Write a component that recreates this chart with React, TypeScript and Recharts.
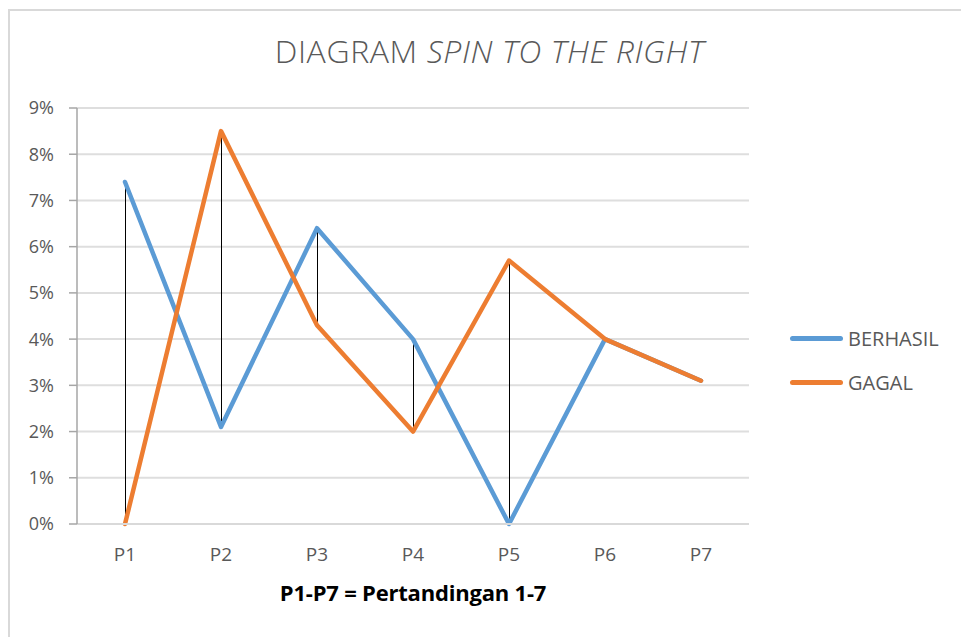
import React from 'react';
import {
    ComposedChart,
    Line,
    Bar,
    XAxis,
    YAxis,
    CartesianGrid,
    Legend,
    Label
} from 'recharts';

// Data kategori dan nilai seri (dibaca dari gambar referensi)
const CATEGORIES = ['P1', 'P2', 'P3', 'P4', 'P5', 'P6', 'P7'];
const BERHASIL = [0.074, 0.021, 0.064, 0.040, 0.0, 0.040, 0.031];
const GAGAL = [0.0, 0.085, 0.043, 0.020, 0.057, 0.040, 0.031];
const Y_TICKS = [0, 0.01, 0.02, 0.03, 0.04, 0.05, 0.06, 0.07, 0.08, 0.09];

const BLUE = '#5b9bd5';
const ORANGE = '#ed7d31';
const TEXT_GREY = '#595959';
const FONT = '"Open Sans", "DejaVu Sans", sans-serif';

// Tabel untuk Recharts + garis high-low (rentang min-max tiap kategori)
const chartData = CATEGORIES.map((name, i) => ({
    name,
    BERHASIL: BERHASIL[i],
    GAGAL: GAGAL[i],
    hl: [Math.min(BERHASIL[i], GAGAL[i]), Math.max(BERHASIL[i], GAGAL[i])]
}));

const LEGEND_ITEMS = [
    { label: 'BERHASIL', color: BLUE },
    { label: 'GAGAL', color: ORANGE }
];

const renderLegend = () => (
    <div style={{ fontFamily: FONT }}>
        {LEGEND_ITEMS.map(item => (
            <div key={item.label} style={{ display: 'flex', alignItems: 'center', height: 44 }}>
                <div style={{ width: 53, height: 5, borderRadius: 3, background: item.color, marginRight: 5 }} />
                <span style={{ fontSize: 20, color: TEXT_GREY }}>{item.label}</span>
            </div>
        ))}
    </div>
);

export default function App() {
    return (
        <div style={{ position: 'absolute', left: 0, top: 0, width: 961, height: 637, overflow: 'hidden', background: '#fff' }}>
            {/* bingkai chart */}
            <div style={{
                position: 'absolute', left: 8, top: 9, width: 1000, height: 700,
                borderLeft: '2px solid #d9d9d9', borderTop: '2px solid #d9d9d9'
            }} />

            {/* judul */}
            <div style={{
                position: 'absolute', left: 9, top: 35, width: 961, textAlign: 'center',
                fontFamily: FONT, fontSize: 32, fontWeight: 300, lineHeight: '32px', color: TEXT_GREY,
                letterSpacing: 0.6
            }}>
                DIAGRAM <i>SPIN TO THE RIGHT</i>
            </div>

            <div style={{ position: 'absolute', left: 0, top: 0 }}>
                <ComposedChart
                    width={961}
                    height={637}
                    data={chartData}
                    margin={{ top: 108, right: 212, left: 17, bottom: 53 }}
                    style={{ fontFamily: FONT }}
                >
                    <CartesianGrid vertical={false} stroke="#dedede" strokeWidth={2} />
                    <XAxis
                        dataKey="name"
                        height={60}
                        tickLine={false}
                        tickSize={0}
                        tickMargin={24}
                        axisLine={{ stroke: '#d9d9d9', strokeWidth: 2 }}
                        tick={{ fill: TEXT_GREY, fontSize: 19 }}
                    >
                        <Label
                            value="P1-P7 = Pertandingan 1-7"
                            position="bottom"
                            offset={1}
                            style={{ fontSize: 22, fontWeight: 700, fill: '#000', letterSpacing: -0.2 }}
                        />
                    </XAxis>
                    <YAxis
                        width={60}
                        domain={[0, 0.09]}
                        ticks={Y_TICKS}
                        interval={0}
                        tickSize={8}
                        tickMargin={15}
                        tickFormatter={(v: number) => `${Math.round(v * 100)}%`}
                        axisLine={{ stroke: '#a6a6a6', strokeWidth: 1.5 }}
                        tickLine={{ stroke: '#a6a6a6', strokeWidth: 1.5 }}
                        tick={{ fill: TEXT_GREY, fontSize: 18 }}
                    />
                    <Legend
                        layout="horizontal"
                        verticalAlign="middle"
                        content={renderLegend}
                        wrapperStyle={{ left: 790, top: 316, width: 170 }}
                    />
                    <Line
                        type="linear"
                        dataKey="BERHASIL"
                        stroke={BLUE}
                        strokeWidth={4.5}
                        strokeLinecap="round"
                        strokeLinejoin="round"
                        dot={false}
                        activeDot={false}
                        isAnimationActive={false}
                    />
                    <Line
                        type="linear"
                        dataKey="GAGAL"
                        stroke={ORANGE}
                        strokeWidth={4.5}
                        strokeLinecap="round"
                        strokeLinejoin="round"
                        dot={false}
                        activeDot={false}
                        isAnimationActive={false}
                    />
                    <Bar dataKey="hl" barSize={1} fill="#000" legendType="none" isAnimationActive={false} />
                </ComposedChart>
            </div>
        </div>
    );
}
